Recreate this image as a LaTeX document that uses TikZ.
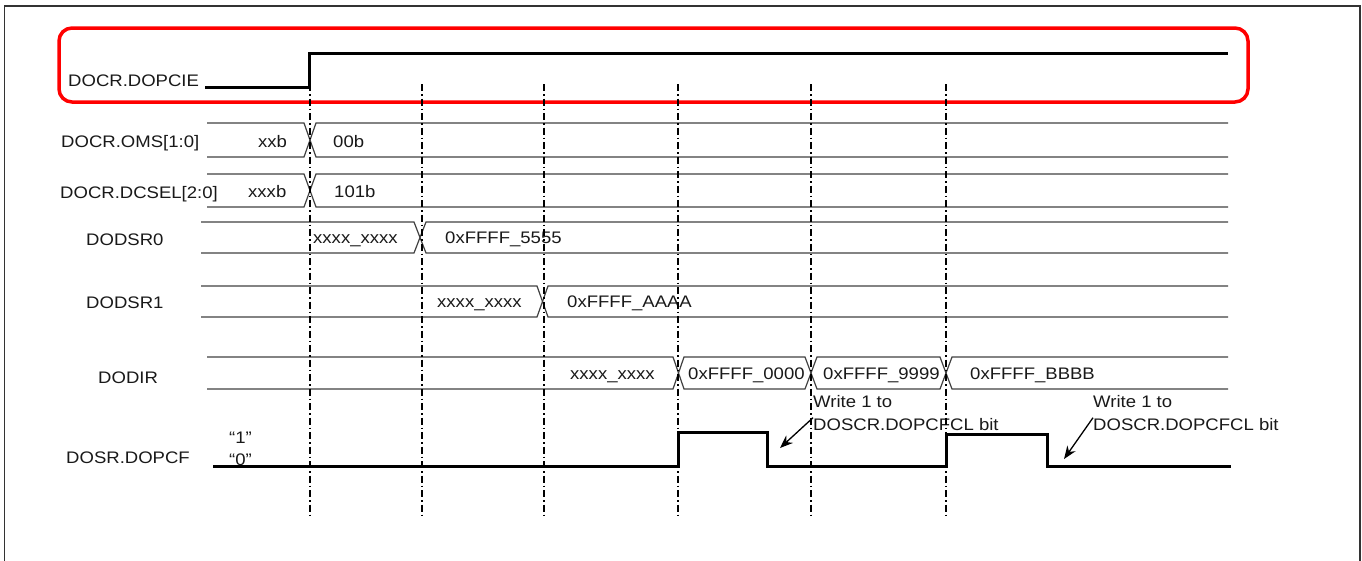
\documentclass[tikz,border=0pt]{standalone}
\usepackage{fontspec}
\setmainfont{Liberation Sans}[FakeStretch=1.11]
\usetikzlibrary{arrows.meta}
\tikzset{
  bus/.style={line width=1.2pt, black!75, line join=miter},
  sig/.style={line width=3pt, black},
  vline/.style={line width=1.4pt, black, dash pattern=on 7pt off 3pt on 1.5pt off 3pt},
  lbl/.style={anchor=base west, inner sep=0pt, font=\fontsize{16.7}{20}\selectfont, text=black!90},
  val/.style={anchor=base west, inner sep=0pt, font=\fontsize{16.7}{20}\selectfont, text=black!90},
  note/.style={-{Stealth[length=13pt,width=10pt]}, line width=1.3pt, black}
}
\begin{document}
\begin{tikzpicture}[x=1pt,y=-1pt]
\useasboundingbox (0,0) rectangle (1362,560);
\clip (0,0) rectangle (1362,560);
% outer frame
\draw[line width=1.5pt, black!80] (4.5,580) -- (4.5,6) -- (1360,6) -- (1360,580);
% highlight box
\draw[red, line width=3.5pt, rounded corners=13pt] (59,28) rectangle (1248,102);

% labels
\node[lbl] (lpcie) at (68,86) {DOCR.DOPCIE};
\node[lbl] (loms) at (61,147) {DOCR.OMS[1:0]};
\node[lbl] (ldcsel) at (60,198) {DOCR.DCSEL[2:0]};
\node[lbl] (ldodsr0) at (86,245) {DODSR0};
\node[lbl] (ldodsr1) at (86,308) {DODSR1};
\node[lbl] (ldodir) at (98,383) {DODIR};
\node[lbl] (ldopcf) at (66,463) {DOSR.DOPCF};

% DOPCIE
\draw[sig] (205,87) -- (309,87) -- (309,53) -- (1228,53);

% OMS bus
\draw[bus] (207,123) -- (304,123) -- (316,157) -- (1228,157);
\draw[bus] (207,157) -- (304,157) -- (316,123) -- (1228,123);
\node[val] (v1) at (258,147) {xxb};
\node[val] (v2) at (333,147) {00b};

% DCSEL bus
\draw[bus] (207,174) -- (304,174) -- (316,207) -- (1228,207);
\draw[bus] (207,207) -- (304,207) -- (316,174) -- (1228,174);
\node[val] (v3) at (248,197) {xxxb};
\node[val] (v4) at (334,197) {101b};

% DODSR0 bus
\draw[bus] (201,222) -- (414,222) -- (426,253) -- (1228,253);
\draw[bus] (201,253) -- (414,253) -- (426,222) -- (1228,222);
\node[val] (v5) at (313,243) {xxxx\_xxxx};
\node[val] (v6) at (445,243) {0xFFFF\_5555};

% DODSR1 bus
\draw[bus] (201,286) -- (537,286) -- (548,317) -- (1228,317);
\draw[bus] (201,317) -- (537,317) -- (548,286) -- (1228,286);
\node[val] (v7) at (437,307) {xxxx\_xxxx};
\node[val] (v8) at (567,307) {0xFFFF\_AAAA};

% DODIR bus
\draw[bus] (207,357) -- (673,357) -- (684,389) -- (805,389) -- (817,357) -- (940,357) -- (952,389) -- (1228,389);
\draw[bus] (207,389) -- (673,389) -- (684,357) -- (805,357) -- (817,389) -- (940,389) -- (952,357) -- (1228,357);
\node[val] (v9) at (570,379) {xxxx\_xxxx};
\node[val] (v10) at (688,379) {0xFFFF\_0000};
\node[val] (v11) at (823,379) {0xFFFF\_9999};
\node[val] (v12) at (970,379) {0xFFFF\_BBBB};

% DOPCF
\node[val] (one) at (229,443) {“1”};
\node[val] (zero) at (229,465) {“0”};
\draw[sig] (213,466) -- (678,466) -- (678,432) -- (767,432) -- (767,466) -- (946,466) -- (946,434) -- (1047,434) -- (1047,466) -- (1231,466);

% notes
\node[val] (n1a) at (813,407) {Write 1 to};
\node[val] (n1b) at (813,430) {DOSCR.DOPCFCL bit};
\node[val] (n2a) at (1093,407) {Write 1 to};
\node[val] (n2b) at (1093,430) {DOSCR.DOPCFCL bit};
\coordinate (t1) at (780,448);
\coordinate (t2) at (1064,459);
\draw[note] (n1b.north west) -- (t1);
\draw[note] (n2b.north west) -- (t2);

% dash-dot time markers
\foreach \x in {310,422,544,678,811,946}
  \draw[vline] (\x,84) -- (\x,518);
\end{tikzpicture}
\end{document}
